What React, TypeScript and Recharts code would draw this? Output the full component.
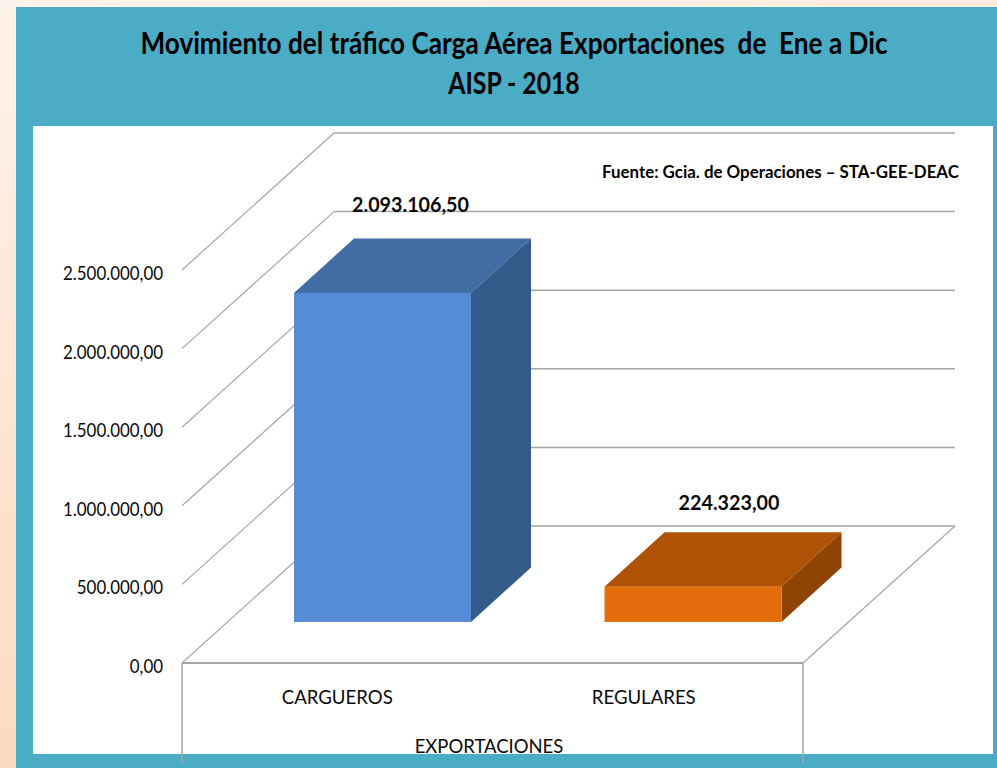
import React from 'react';
import { BarChart, Bar, XAxis, YAxis, CartesianGrid, LabelList } from 'recharts';

const categories = ['CARGUEROS', 'REGULARES'];
const exportaciones = [2093106.5, 224323];
const valueLabels = ['2.093.106,50', '224.323,00'];
const yTicks = [0, 500000, 1000000, 1500000, 2000000, 2500000];
const yTickLabels = ['0,00', '500.000,00', '1.000.000,00', '1.500.000,00', '2.000.000,00', '2.500.000,00'];

const data = categories.map((name, i) => ({ name, value: exportaciones[i] }));

// Fake 3D: wall depth and how far the bars sit inside the floor
const WALL_DX = 152;
const WALL_DY = -137;
const BAR_DX = 60;
const BAR_DY = -54.5;
const BAR_SHIFT_X = 45;
const BAR_SHIFT_Y = -41;
const GRID = '#a6a6a6';
const FONT = 'Lato, sans-serif';

const barColors = [
  { front: '#568cd6', top: '#426da4', side: '#355b8a' },
  { front: '#e46c0a', top: '#af5205', side: '#8f4304' }
];
const labelNudge = [
  { x: 28, y: -88 },
  { x: 36, y: -84 }
];
const categoryNudge = [0, -4];

// Lato is wider than the original font, so text gets squeezed horizontally
function Squeezed({ x, y, scale, anchor, size, weight, children }: any) {
  return (
    <text
      transform={`translate(${x} ${y}) scale(${scale} 1)`}
      textAnchor={anchor}
      fontFamily={FONT}
      fontSize={size}
      fontWeight={weight ?? 400}
      fill="#0a0a0a"
    >
      {children}
    </text>
  );
}

function Bar3D(props: any) {
  const { x, y, width, height, index } = props;
  const c = barColors[index];
  const l = x + BAR_SHIFT_X;
  const r = l + width;
  const t = y + BAR_SHIFT_Y;
  const b = t + height;
  return (
    <g>
      <polygon points={`${l},${t} ${r},${t} ${r + BAR_DX},${t + BAR_DY} ${l + BAR_DX},${t + BAR_DY}`} fill={c.top} />
      <polygon points={`${r},${t} ${r + BAR_DX},${t + BAR_DY} ${r + BAR_DX},${b + BAR_DY} ${r},${b}`} fill={c.side} />
      <rect x={l} y={t} width={width} height={height} fill={c.front} />
    </g>
  );
}

function GridLine3D(props: any) {
  const { x1, x2, y1, index } = props;
  const isFloor = index === 0 || Math.abs(y1 - 663) < 1;
  return (
    <g>
      <line x1={x1} y1={y1} x2={x1 + WALL_DX} y2={y1 + WALL_DY} stroke={GRID} strokeWidth={1.2} />
      <line x1={x1 + WALL_DX} y1={y1 + WALL_DY} x2={x2 + WALL_DX} y2={y1 + WALL_DY} stroke={GRID} strokeWidth={1.5} />
      {isFloor && (
        <>
          <line x1={x2} y1={y1} x2={x2 + WALL_DX} y2={y1 + WALL_DY} stroke={GRID} strokeWidth={1.2} />
          <line x1={x1} y1={y1} x2={x1} y2={y1 + 100} stroke={GRID} strokeWidth={1.5} />
          <line x1={x2} y1={y1} x2={x2} y2={y1 + 100} stroke={GRID} strokeWidth={1.5} />
        </>
      )}
    </g>
  );
}

function ValueLabel(props: any) {
  const { x, y, width, index } = props;
  return (
    <Squeezed
      x={x + BAR_SHIFT_X + width / 2 + labelNudge[index].x}
      y={y + BAR_SHIFT_Y + labelNudge[index].y + 7}
      scale={0.94}
      anchor="middle"
      size={21}
      weight={700}
    >
      {valueLabels[index]}
    </Squeezed>
  );
}

function CategoryTick(props: any) {
  const { x, y, payload, index } = props;
  return (
    <Squeezed x={x + categoryNudge[index]} y={y + 33} scale={0.93} anchor="middle" size={20}>
      {payload.value}
    </Squeezed>
  );
}

function ValueTick(props: any) {
  const { x, y, payload } = props;
  return (
    <Squeezed x={x - 11} y={y + 10} scale={0.89} anchor="end" size={19}>
      {yTickLabels[yTicks.indexOf(payload.value)]}
    </Squeezed>
  );
}

function AxisName() {
  return (
    <Squeezed x={489} y={753} scale={0.925} anchor="middle" size={20}>
      EXPORTACIONES
    </Squeezed>
  );
}

export default function App() {
  return (
    <div
      style={{
        position: 'absolute',
        left: 0,
        top: 0,
        width: 997,
        height: 768,
        overflow: 'hidden',
        background: 'linear-gradient(170deg, #fef3ea 0%, #fde3d0 50%, #fcd5b5 100%)'
      }}
    >
      <div style={{ position: 'absolute', left: 16, top: 7, width: 981, height: 761, background: '#4bacc6' }} />
      <div style={{ position: 'absolute', left: 33, top: 126, width: 960, height: 628, background: '#fff' }} />
      <div
        style={{
          position: 'absolute',
          left: 0,
          top: 22,
          width: 1028,
          textAlign: 'center',
          fontFamily: FONT,
          fontWeight: 700,
          fontSize: 30,
          lineHeight: '40px',
          color: '#000',
          whiteSpace: 'pre'
        }}
      >
        <div style={{ transform: 'scaleX(0.872)', transformOrigin: '514px 0' }}>
          {'Movimiento del tráfico Carga Aérea Exportaciones  de  Ene a Dic'}
        </div>
        <div style={{ transform: 'scaleX(0.825)', transformOrigin: '514px 0' }}>AISP - 2018</div>
      </div>
      <div
        style={{
          position: 'absolute',
          left: 602,
          top: 161,
          fontFamily: FONT,
          fontWeight: 700,
          fontSize: 16.9,
          color: '#000',
          whiteSpace: 'nowrap'
        }}
      >
        Fuente: Gcia. de Operaciones – STA-GEE-DEAC
      </div>
      <div style={{ position: 'absolute', left: 0, top: 0 }}>
        <BarChart
          width={997}
          height={768}
          data={data}
          margin={{ top: 270, right: 194, bottom: 0, left: 0 }}
        >
          <CartesianGrid vertical={false} horizontal={(p: any) => <GridLine3D key={p.key ?? p.index} {...p} />} />
          <XAxis
            dataKey="name"
            axisLine={{ stroke: GRID, strokeWidth: 2 }}
            tickLine={false}
            interval={0}
            height={105}
            tick={<CategoryTick />}
            label={{ content: <AxisName /> }}
          />
          <YAxis
            domain={[0, 2500000]}
            ticks={yTicks}
            interval={0}
            axisLine={false}
            tickLine={false}
            width={182}
            tick={<ValueTick />}
          />
          <Bar dataKey="value" barSize={177} shape={<Bar3D />} isAnimationActive={false}>
            <LabelList dataKey="value" content={<ValueLabel />} />
          </Bar>
        </BarChart>
      </div>
    </div>
  );
}
